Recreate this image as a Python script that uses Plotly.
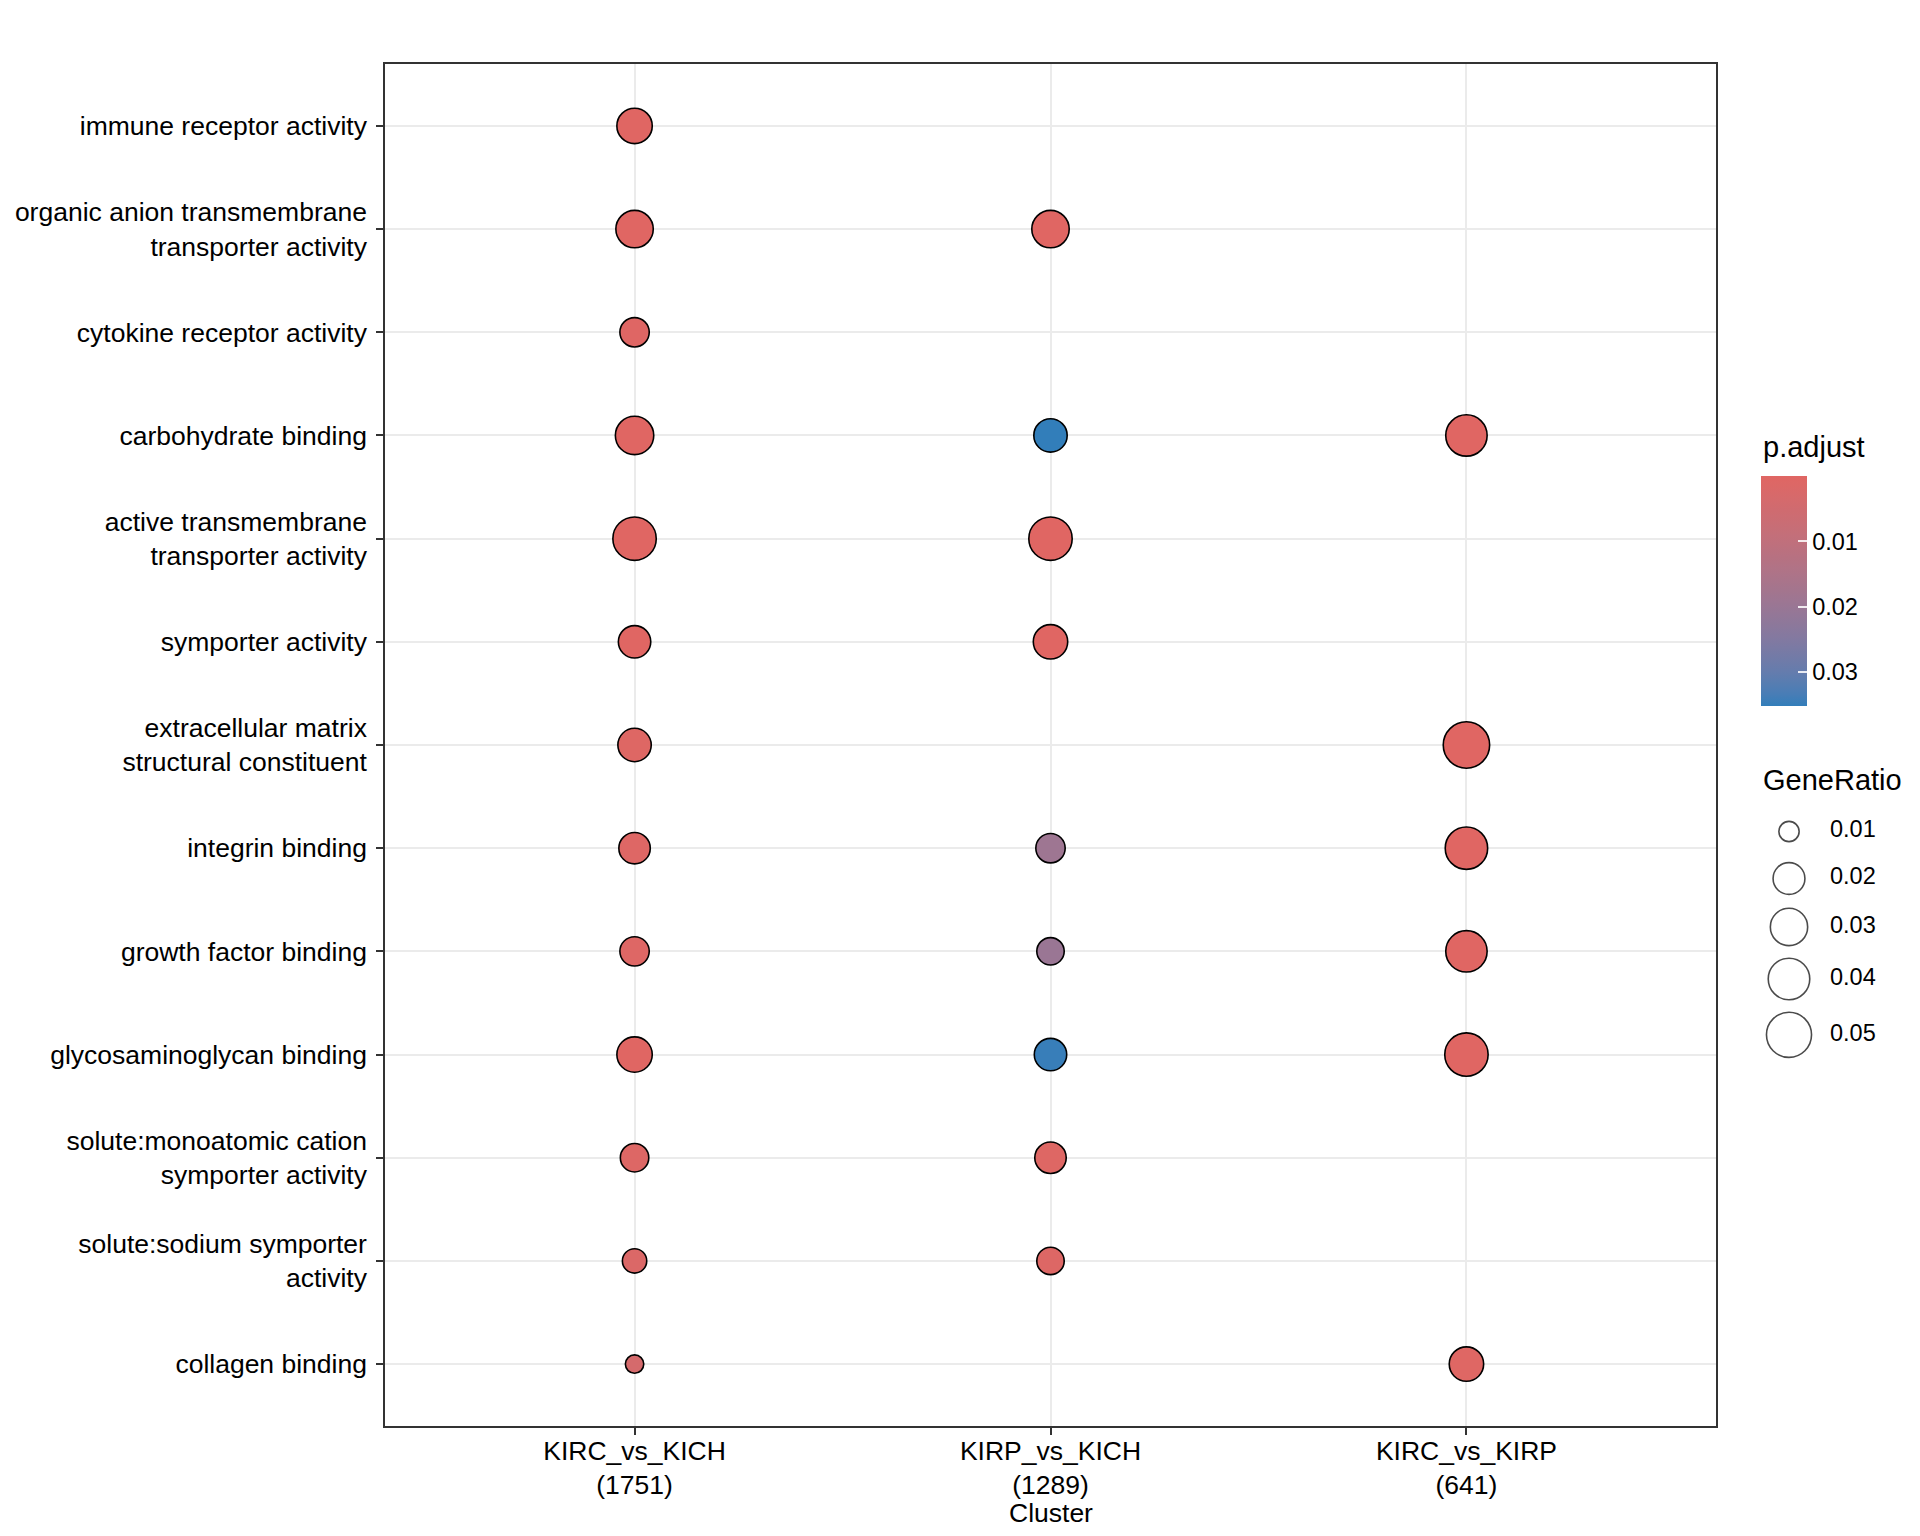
import plotly.graph_objects as go

# ---------------- data ----------------
terms = [
    "immune receptor activity",
    "organic anion transmembrane<br>transporter activity",
    "cytokine receptor activity",
    "carbohydrate binding",
    "active transmembrane<br>transporter activity",
    "symporter activity",
    "extracellular matrix<br>structural constituent",
    "integrin binding",
    "growth factor binding",
    "glycosaminoglycan binding",
    "solute:monoatomic cation<br>symporter activity",
    "solute:sodium symporter<br>activity",
    "collagen binding",
]
clusters = ["KIRC_vs_KICH<br>(1751)", "KIRP_vs_KICH<br>(1289)", "KIRC_vs_KIRP<br>(641)"]

# KIRC_vs_KICH
kirc_kich_terms = terms
kirc_kich_ratio = [0.0261, 0.0302, 0.0166, 0.0324, 0.0451, 0.0209, 0.0225,
                   0.0194, 0.0166, 0.0261, 0.0155, 0.0118, 0.0098]
kirc_kich_padj = [2.1e-6, 3.5e-8, 4.2e-4, 1.1e-5, 1.2e-10, 5.6e-5, 6.3e-4,
                  7.7e-4, 8.1e-4, 1.5e-4, 9.2e-4, 1.8e-3, 3.4e-3]

# KIRP_vs_KICH
kirp_kich_terms = [terms[1], terms[3], terms[4], terms[5], terms[7], terms[8],
                   terms[9], terms[10], terms[11]]
kirp_kich_ratio = [0.0302, 0.0225, 0.0451, 0.0243, 0.0166, 0.0144, 0.0209, 0.0194, 0.0144]
kirp_kich_padj = [2.0e-6, 0.0352, 4.4e-9, 1.3e-4, 0.0189, 0.0198, 0.0347, 6.1e-4, 1.1e-3]

# KIRC_vs_KIRP
kirc_kirp_terms = [terms[3], terms[6], terms[7], terms[8], terms[9], terms[12]]
kirc_kirp_ratio = [0.0397, 0.0541, 0.0424, 0.0397, 0.0451, 0.0243]
kirc_kirp_padj = [2.7e-5, 3.3e-9, 4.5e-6, 3.8e-5, 8.9e-6, 5.2e-4]

size_legend_values = [0.01, 0.02, 0.03, 0.04, 0.05]
size_legend_labels = ["0.01", "0.02", "0.03", "0.04", "0.05"]
color_tick_values = [0.01, 0.02, 0.03]
color_tick_labels = ["0.01", "0.02", "0.03"]

# ---------------- helpers (styling) ----------------
W, H = 1920, 1536
FONT = "Liberation Sans"
LOW_COL, HIGH_COL = "#e06663", "#327eba"
STROKE = 1.6


def ratio_to_diam(v):
    return 20 + 133 * max(v - 0.0098, 0) ** 0.5


def hex2rgb(h):
    h = h.lstrip("#")
    return [int(h[i:i + 2], 16) for i in (0, 2, 4)]


def rgb2lab(rgb):
    def lin(c):
        c = c / 255.0
        return c / 12.92 if c <= 0.04045 else ((c + 0.055) / 1.055) ** 2.4
    r, g, b = [lin(c) for c in rgb]
    X = 0.4124 * r + 0.3576 * g + 0.1805 * b
    Y = 0.2126 * r + 0.7152 * g + 0.0722 * b
    Z = 0.0193 * r + 0.1192 * g + 0.9505 * b
    X /= 0.95047; Z /= 1.08883

    def f(t):
        return t ** (1 / 3) if t > 0.008856 else 7.787 * t + 16 / 116
    fx, fy, fz = f(X), f(Y), f(Z)
    return [116 * fy - 16, 500 * (fx - fy), 200 * (fy - fz)]


def lab2rgb(lab):
    L, a, b = lab
    fy = (L + 16) / 116
    fx = fy + a / 500
    fz = fy - b / 200

    def finv(t):
        return t ** 3 if t ** 3 > 0.008856 else (t - 16 / 116) / 7.787
    X, Y, Z = finv(fx) * 0.95047, finv(fy), finv(fz) * 1.08883
    r = 3.2406 * X - 1.5372 * Y - 0.4986 * Z
    g = -0.9689 * X + 1.8758 * Y + 0.0415 * Z
    bb = 0.0557 * X - 0.2040 * Y + 1.0570 * Z

    def gam(c):
        c = c * 12.92 if c <= 0.0031308 else 1.055 * c ** (1 / 2.4) - 0.055
        return int(round(min(max(c, 0), 1) * 255))
    return "rgb(%d,%d,%d)" % (gam(r), gam(g), gam(bb))


lab_lo, lab_hi = rgb2lab(hex2rgb(LOW_COL)), rgb2lab(hex2rgb(HIGH_COL))
colorscale = []
n = 20
for i in range(n + 1):
    s = i / n
    t = 1 - s  # s=1 -> smallest p (red)
    lab = [lab_lo[k] + (lab_hi[k] - lab_lo[k]) * t for k in range(3)]
    colorscale.append([s, lab2rgb(lab)])

# ---------------- assemble ----------------
xs, ys, ratios, padjs = [], [], [], []
for cl, tt, rr, pp in [
    (clusters[0], kirc_kich_terms, kirc_kich_ratio, kirc_kich_padj),
    (clusters[1], kirp_kich_terms, kirp_kich_ratio, kirp_kich_padj),
    (clusters[2], kirc_kirp_terms, kirc_kirp_ratio, kirc_kirp_padj),
]:
    xs += [cl] * len(tt)
    ys += tt
    ratios += rr
    padjs += pp

pmin, pmax = min(padjs), max(padjs)

fig = go.Figure()
fig.add_trace(go.Scatter(
    x=xs, y=ys, mode="markers",
    marker=dict(
        size=[ratio_to_diam(v) - STROKE for v in ratios],
        color=[-p for p in padjs],
        cmin=-pmax, cmax=-pmin,
        colorscale=colorscale,
        line=dict(color="black", width=STROKE),
        opacity=1,
        colorbar=dict(
            x=1761 / W, xanchor="left",
            y=1 - 476 / H, yanchor="top",
            thickness=46, thicknessmode="pixels",
            len=230, lenmode="pixels",
            xpad=0, ypad=0, outlinewidth=0,
            tickvals=[-v for v in color_tick_values],
            ticktext=color_tick_labels,
            ticks="inside", ticklen=9, tickwidth=1.5, tickcolor="rgba(255,255,255,0.85)",
            tickfont=dict(family=FONT, size=23.5, color="black"),
        ),
    ),
    hoverinfo="skip", showlegend=False,
))

# size legend drawn on its own small axes
key_h = [max(ratio_to_diam(v), 36) + 11 for v in size_legend_values]
centers = []
pos = 808
for h in key_h:
    centers.append(pos + h / 2)
    pos += h

fig.add_trace(go.Scatter(
    x=[28] * len(size_legend_values), y=centers, mode="markers",
    marker=dict(size=[ratio_to_diam(v) - STROKE for v in size_legend_values],
                color="rgba(0,0,0,0)", line=dict(color="black", width=STROKE)),
    xaxis="x2", yaxis="y2", hoverinfo="skip", showlegend=False,
))
fig.add_trace(go.Scatter(
    x=[69] * len(size_legend_values), y=centers, mode="text",
    text=size_legend_labels, textposition="middle right",
    textfont=dict(family=FONT, size=23.5, color="black"),
    xaxis="x2", yaxis="y2", hoverinfo="skip", showlegend=False,
))

axis_common = dict(
    showgrid=True, gridcolor="#EBEBEB", gridwidth=2,
    showline=True, linecolor="#333333", linewidth=1.5, mirror=True,
    ticks="outside", ticklen=7, tickwidth=1.5, tickcolor="#333333",
    tickfont=dict(family=FONT, size=26.5, color="black"),
    zeroline=False, automargin=False,
)

fig.update_layout(
    width=W, height=H,
    margin=dict(l=0, r=0, t=0, b=0, autoexpand=False),
    paper_bgcolor="white", plot_bgcolor="white",
    font=dict(family=FONT, color="black"),
    xaxis=dict(
        **axis_common,
        domain=[385 / W, 1716 / W],
        type="category", categoryorder="array", categoryarray=clusters,
        range=[-0.6, 2.6],
        ticklabelstandoff=-7,
    ),
    yaxis=dict(
        **axis_common,
        domain=[1 - 1426 / H, 1 - 64 / H],
        type="category", categoryorder="array", categoryarray=terms,
        range=[len(terms) - 0.4, -0.6],
        ticklabelstandoff=4,
    ),
    xaxis2=dict(domain=[1761 / W, 1.0], range=[0, 159], visible=False, fixedrange=True),
    yaxis2=dict(domain=[1 - 1060 / H, 1 - 800 / H], range=[1060, 800], visible=False,
                anchor="x2", fixedrange=True),
    annotations=[
        dict(text="GeneRatio", x=1761 / W, y=1 - 780 / H, xref="paper", yref="paper",
             xanchor="left", yanchor="middle", showarrow=False,
             font=dict(family=FONT, size=29, color="black")),
        dict(text="p.adjust", x=1761 / W, y=1 - 447 / H, xref="paper", yref="paper",
             xanchor="left", yanchor="middle", showarrow=False,
             font=dict(family=FONT, size=29, color="black")),
        dict(text="Cluster", x=(385 + 1716) / 2 / W, y=1 - 1513 / H, xref="paper", yref="paper",
             xanchor="center", yanchor="middle", showarrow=False,
             font=dict(family=FONT, size=26.5, color="black")),
    ],
)

fig.write_html("out.html", config={"displayModeBar": False},
               post_script="document.body.style.margin='0px';")
